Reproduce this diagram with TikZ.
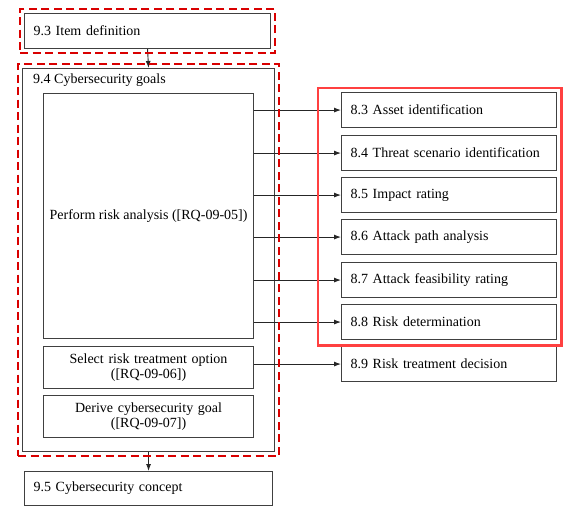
\documentclass[tikz,border=0pt]{standalone}
\usepackage{fontspec}
\setmainfont{Liberation Serif}
\usepackage{tikz}
\usetikzlibrary{arrows.meta,fit}
\begin{document}
\begin{tikzpicture}[x=1pt,y=-1pt,font=\fontsize{14}{15.5}\selectfont,
  box/.style={draw=black!75,line width=1.1pt,inner xsep=9pt,inner ysep=0pt,anchor=north west,align=left},
  cbox/.style={draw=black!75,line width=1.1pt,inner sep=0pt,anchor=north west,align=center},
  arr/.style={draw=black!85,line width=0.9pt,-{Latex[length=7pt,width=5pt]}},
  reddash/.style={draw=red!85!black,line width=2.2pt,dash pattern=on 8pt off 4.5pt,inner sep=4pt},
  redbox/.style={draw=red!75!white,line width=2.8pt}]
\useasboundingbox (0,0) rectangle (570,512);

\node[box,text width=228pt,minimum height=35pt] (item) at (24,13) {9.3 Item definition};
\node[cbox,minimum width=252pt,minimum height=383pt] (goals) at (22,68) {};
\node[anchor=west,inner sep=0pt] (goalstitle) at (33,80) {9.4 Cybersecurity goals};
\node[cbox,minimum width=210pt,minimum height=245pt] (perform) at (43,93) {Perform risk analysis ([RQ-09-05])};
\node[cbox,minimum width=210pt,minimum height=42pt,text width=200pt] (select) at (43,346) {Select risk treatment option\\([RQ-09-06])};
\node[cbox,minimum width=210pt,minimum height=42pt,text width=200pt] (derive) at (43,395) {Derive cybersecurity goal\\([RQ-09-07])};
\node[box,text width=230pt,minimum height=34pt] (concept) at (24,471) {9.5 Cybersecurity concept};

\node[box,text width=197pt,minimum height=35pt] (a83) at (341,92) {8.3 Asset identification};
\node[box,text width=197pt,minimum height=35pt] (a84) at (341,135) {8.4 Threat scenario identification};
\node[box,text width=197pt,minimum height=35pt] (a85) at (341,177) {8.5 Impact rating};
\node[box,text width=197pt,minimum height=35pt] (a86) at (341,219) {8.6 Attack path analysis};
\node[box,text width=197pt,minimum height=35pt] (a87) at (341,262) {8.7 Attack feasibility rating};
\node[box,text width=197pt,minimum height=35pt] (a88) at (341,304) {8.8 Risk determination};
\node[box,text width=197pt,minimum height=35pt] (a89) at (341,346) {8.9 Risk treatment decision};

\draw[arr] (item.south) -- (goals.north);
\draw[arr] (goals.south) -- (concept.north);
\draw[arr] (perform.east |- a83.west) -- (a83.west);
\draw[arr] (perform.east |- a84.west) -- (a84.west);
\draw[arr] (perform.east |- a85.west) -- (a85.west);
\draw[arr] (perform.east |- a86.west) -- (a86.west);
\draw[arr] (perform.east |- a87.west) -- (a87.west);
\draw[arr] (perform.east |- a88.west) -- (a88.west);
\draw[arr] (select.east |- a89.west) -- (a89.west);

\node[reddash,fit=(item)] (itemframe) {};
\node[reddash,fit=(goals)] (goalsframe) {};
\draw[redbox] ([xshift=-23pt,yshift=4pt]a83.north west) rectangle ([xshift=4pt,yshift=-5pt]a88.south east);
\end{tikzpicture}
\end{document}
